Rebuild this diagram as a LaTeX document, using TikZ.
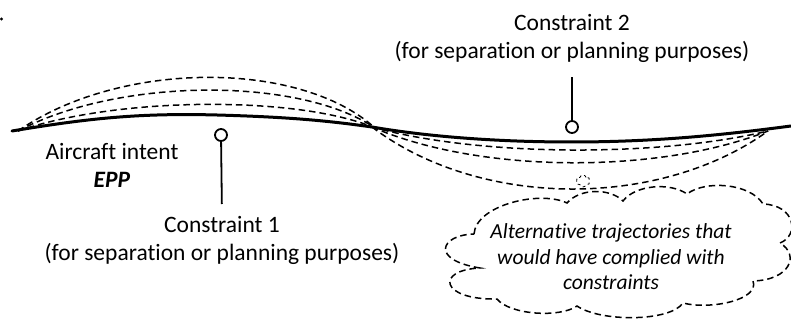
\documentclass[tikz,border=0pt]{standalone}
\usepackage{fontspec}
\setmainfont{Carlito}[Ligatures=NoCommon]
\usetikzlibrary{shapes.symbols}

\begin{document}
\begin{tikzpicture}[y=1pt, x=1pt, yscale=-1, inner sep=0pt, outer sep=0pt,
  lbl/.style={font=\fontsize{23.5}{28}\selectfont, align=center},
  alttraj/.style={draw=black, line width=1.5pt, dash pattern=on 6.5pt off 4pt},
  constr/.style={draw, circle, line width=1.8pt, minimum size=12pt, fill=white}]
\useasboundingbox (0,0) rectangle (791,320);
\fill (1.5,19) circle (1.6);
% alternatives above and below the intent
\foreach \c in {60,77,96}
  \path[alttraj] (18,131) .. controls (120,\c) and (300,\c) .. (375,128);
\foreach \c in {157,174,209}
  \path[alttraj] (372,127) .. controls (480,\c) and (660,\c) .. (768,131);
\path[draw=black, line width=3pt, line cap=round]
  (12,131) .. controls (90,118) and (140,113) .. (217,115) .. controls (290,117) and (330,121) ..
  (372,127) .. controls (430,137) and (500,142) .. (572,142) .. controls (660,142) and (730,134) ..
  (791,126);
\node [lbl] (intent) at (112,165) {Aircraft intent\\\textbf{\textit{EPP}}};
\node [constr] (c1) at (221,135) {};
\node [lbl, below] (c1lab) at (222,216) {Constraint 1\\(for separation or planning purposes)};
\draw [line width=1.8pt, shorten >=12pt] (c1) -- (c1lab.north);
\node [constr] (c2) at (572,127) {};
\node [lbl, above] (c2lab) at (572,63) {Constraint 2\\(for separation or planning purposes)};
\draw [line width=1.8pt, shorten >=14pt] (c2) -- (c2lab.south);
\node [cloud, draw, line width=0.8pt, dashed, cloud puffs=6, minimum width=14pt, minimum height=12pt] (puff) at (583,181) {};
% the thought cloud
\path[alttraj]
  (474,234) .. controls (476,205) and (540,190) .. (567,203)
  .. controls (580,188) and (610,188) .. (623,201)
  .. controls (635,185) and (670,182) .. (687,194)
  .. controls (705,180) and (750,183) .. (763,204)
  .. controls (795,205) and (800,235) .. (780,243)
  .. controls (800,255) and (790,280) .. (753,281)
  .. controls (760,300) and (710,310) .. (683,303)
  .. controls (670,322) and (600,322) .. (577,306)
  .. controls (560,318) and (510,315) .. (497,299)
  .. controls (440,300) and (435,270) .. (480,268)
  .. controls (430,260) and (440,235) .. (474,234);
\node [font=\itshape\fontsize{21.5}{25.5}\selectfont, align=center] (bubbletext) at (611,257)
  {Alternative trajectories that\\would have complied with\\constraints};
\end{tikzpicture}
\end{document}
